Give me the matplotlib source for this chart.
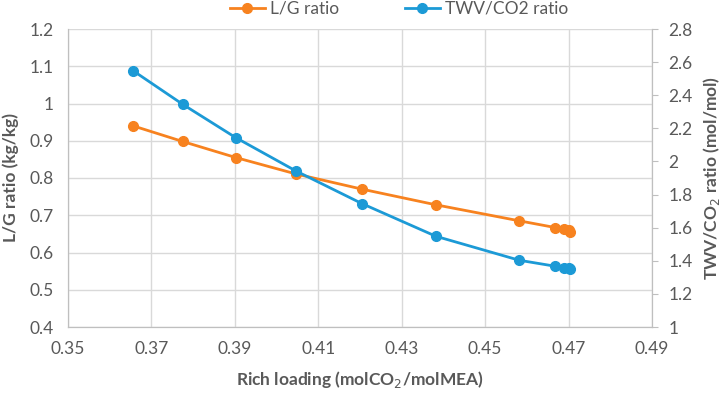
import matplotlib.pyplot as plt

# data
loading = [0.3656, 0.3775, 0.3902, 0.4046, 0.4205, 0.4382, 0.4582, 0.4668, 0.4690, 0.4700, 0.4704]
lg_ratio = [0.940, 0.898, 0.855, 0.811, 0.770, 0.728, 0.685, 0.667, 0.663, 0.660, 0.654]
twv_ratio = [2.548, 2.345, 2.144, 1.943, 1.745, 1.548, 1.403, 1.367, 1.359, 1.357, 1.353]

orange = '#F7821F'
blue = '#1C9AD6'
grey = '#595959'

plt.rcParams['font.family'] = ['Lato', 'DejaVu Sans']
plt.rcParams['font.size'] = 12.5

fig = plt.figure(figsize=(7.26, 3.94), dpi=100)
ax = fig.add_axes([68/726, 1-327/394, (652-68)/726, 298/394])
ax2 = ax.twinx()

l1, = ax.plot(loading, lg_ratio, color=orange, lw=2, marker='o', ms=7, label='L/G ratio')
l2, = ax2.plot(loading, twv_ratio, color=blue, lw=2, marker='o', ms=7, label='TWV/CO2 ratio')

ax.set_xlim(0.35, 0.49)
ax.set_ylim(0.4, 1.2)
ax2.set_ylim(1.0, 2.8)
ax.set_xticks([0.35, 0.37, 0.39, 0.41, 0.43, 0.45, 0.47, 0.49])
ax.set_xticklabels(['0.35', '0.37', '0.39', '0.41', '0.43', '0.45', '0.47', '0.49'])
ax.set_yticks([0.4, 0.5, 0.6, 0.7, 0.8, 0.9, 1.0, 1.1, 1.2])
ax.set_yticklabels(['0.4', '0.5', '0.6', '0.7', '0.8', '0.9', '1', '1.1', '1.2'])
ax2.set_yticks([1.0, 1.2, 1.4, 1.6, 1.8, 2.0, 2.2, 2.4, 2.6, 2.8])
ax2.set_yticklabels(['1', '1.2', '1.4', '1.6', '1.8', '2', '2.2', '2.4', '2.6', '2.8'])

ax.grid(True, color='#D9D9D9', lw=1)
ax.set_axisbelow(True)
for a in (ax, ax2):
    a.spines['top'].set_visible(False)
    for s in ('left', 'bottom', 'right'):
        a.spines[s].set_color('#BFBFBF')
ax.tick_params(axis='both', length=0, colors=grey, pad=10)
ax2.tick_params(axis='y', length=4, color='#BFBFBF', labelcolor=grey, pad=8)

ax.set_xlabel('Rich loading (molCO$_2$/molMEA)', color=grey, fontweight='bold', fontsize=12.5, labelpad=9)
ax.set_ylabel('L/G ratio (kg/kg)', color=grey, fontweight='bold', fontsize=12.5, labelpad=8)
ax2.set_ylabel('TWV/CO$_2$ ratio (mol/mol)', color=grey, fontweight='bold', fontsize=12.5, labelpad=6)

fig.legend(handles=[l1, l2], loc='center', bbox_to_anchor=(399/726, 1 - 9/394), ncol=2,
           frameon=False, fontsize=12.5, labelcolor=grey, handlelength=2.0,
           handletextpad=0.3, columnspacing=3.8)

fig.savefig('out.png', dpi=100)
